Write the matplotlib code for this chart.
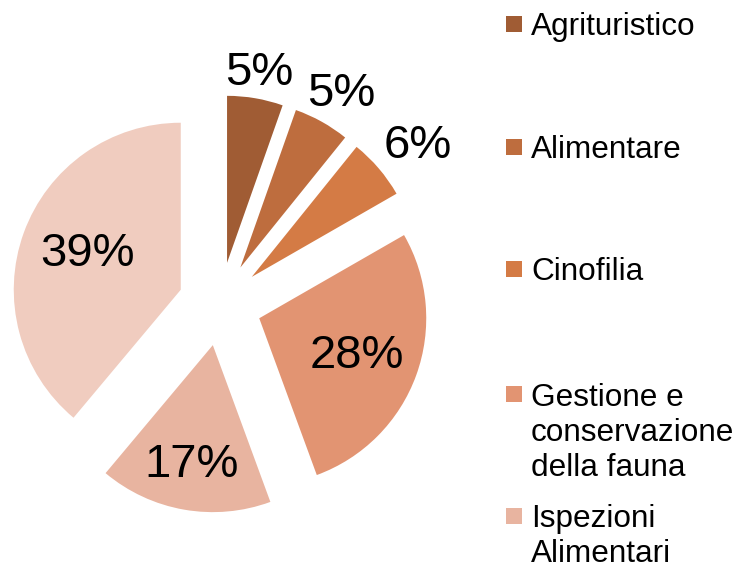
import numpy as np
import matplotlib
matplotlib.use("Agg")
import matplotlib.pyplot as plt
from matplotlib.patches import Rectangle
from matplotlib.transforms import offset_copy

plt.rcParams['font.family'] = ['Liberation Sans', 'DejaVu Sans']

categories = ["Agrituristico", "Alimentare", "Cinofilia",
              "Gestione e\nconservazione\ndella fauna", "Ispezioni\nAlimentari", "Altro"]
values = [5.4, 5.4, 5.9, 27.7, 16.7, 38.9]
colors = ["#A05C34", "#BE6D3E", "#D47B45", "#E29472", "#E8B4A0", "#F0CCBF"]
label_dist = [1.184, 1.226, 1.282, 0.616, 0.698, 0.61]
label_rot = [0.3, -0.3, -1.2, 1.5, -0.4, -3.5]

W, H = 739, 563
fig = plt.figure(figsize=(W / 100, H / 100), dpi=100)

# pie geometry in pixels
cx, cy, R = 220, 304, 167
axw = 480
ax = fig.add_axes([0, 0, axw / W, 1])
wedges, _ = ax.pie(values, colors=colors, startangle=90, counterclock=False,
                   explode=[0.25] * len(values), radius=1,
                   wedgeprops=dict(linewidth=0))
ax.set_xlim(-cx / R, (axw - cx) / R)
ax.set_ylim(-(H - cy) / R, cy / R)
ax.set_aspect('auto')
ax.axis('off')

fs = 34
tr = offset_copy(ax.transData, fig=fig, y=-0.358 * fs, units='points')
for w, v, d, dr in zip(wedges, values, label_dist, label_rot):
    th = np.deg2rad((w.theta1 + w.theta2) / 2 + dr)
    x0, y0 = w.center
    ax.text(x0 + d * np.cos(th), y0 + d * np.sin(th), f"{round(v)}%",
            ha='center', va='baseline', fontsize=fs, color='black', transform=tr)

# legend (only the visible entries)
baselines = [35, 157.5, 280, 404.5, 526.5]
line_px = 36.0
for lab, col, yb in zip(categories[:5], colors[:5], baselines):
    yc = yb - 11
    fig.patches.append(Rectangle((506 / W, 1 - (yc + 8) / H), 16 / W, 16 / H,
                                 transform=fig.transFigure, facecolor=col, edgecolor='none'))
    nl = lab.count("\n")
    fig.text(531 / W, 1 - (yb + nl * line_px) / H, lab, ha='left', va='baseline',
             fontsize=22.7, color='black', linespacing=1.22)

fig.savefig("out.png", dpi=100)
